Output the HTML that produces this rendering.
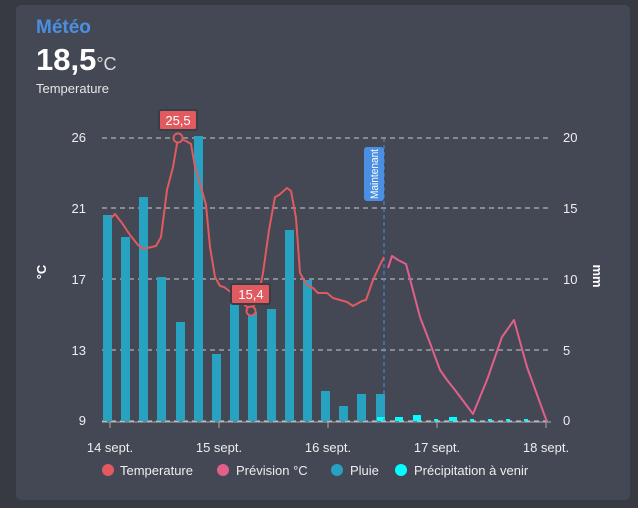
<!DOCTYPE html><html><head><style>
body{margin:0;width:638px;height:508px;background:#373a42;font-family:"Liberation Sans",sans-serif;overflow:hidden}
.card{position:absolute;left:16px;top:5px;width:614px;height:495px;background:#434854;border-radius:5px}
</style></head><body><div class="card"></div>
<svg width="638" height="508" style="position:absolute;left:0;top:0" font-family="Liberation Sans, sans-serif">
<text x="36" y="33" fill="#4b8fe2" font-size="19" font-weight="bold">Météo</text>
<text x="36" y="70" fill="#fff" font-size="31" font-weight="bold">18,5<tspan font-size="18" font-weight="normal" fill="#ddd">°C</tspan></text>
<text x="36" y="93" fill="#e6e6e6" font-size="13">Temperature</text>
<g stroke="#ccc" stroke-dasharray="5,4" stroke-width="1">
<line x1="102" y1="138" x2="551" y2="138"/><line x1="102" y1="208" x2="551" y2="208"/><line x1="102" y1="279" x2="551" y2="279"/><line x1="102" y1="350" x2="551" y2="350"/><line x1="102" y1="421" x2="551" y2="421"/></g>
<g fill="#eee" font-size="13" text-anchor="end"><text x="86" y="142">26</text><text x="86" y="213">21</text><text x="86" y="284">17</text><text x="86" y="355">13</text><text x="86" y="425">9</text></g>
<g fill="#eee" font-size="13"><text x="563" y="142">20</text><text x="563" y="213">15</text><text x="563" y="284">10</text><text x="563" y="355">5</text><text x="563" y="425">0</text></g>
<text transform="translate(46,272) rotate(-90)" fill="#fff" font-size="13" font-weight="bold" text-anchor="middle">°C</text>
<text transform="translate(593,276) rotate(90)" fill="#fff" font-size="13" font-weight="bold" text-anchor="middle">mm</text>
<g fill="#27a2c0">
<rect x="103" y="215" width="9" height="206"/><rect x="121" y="237" width="9" height="184"/><rect x="139" y="197" width="9" height="224"/><rect x="157" y="277" width="9" height="144"/><rect x="176" y="322" width="9" height="99"/><rect x="194" y="136" width="9" height="285"/><rect x="212" y="354" width="9" height="67"/><rect x="230" y="303" width="9" height="118"/><rect x="248" y="312" width="9" height="109"/><rect x="267" y="309" width="9" height="112"/><rect x="285" y="230" width="9" height="191"/><rect x="303" y="280" width="9" height="141"/><rect x="321" y="391" width="9" height="30"/><rect x="339" y="406" width="9" height="15"/><rect x="357" y="394" width="9" height="27"/><rect x="376" y="394" width="9" height="27"/></g>
<g fill="#00ffff"><rect x="377" y="417" width="8" height="4"/><rect x="395" y="417" width="8" height="4"/><rect x="413" y="415" width="8" height="6"/><rect x="434" y="419" width="4" height="2"/><rect x="449" y="417" width="8" height="4"/><rect x="470" y="419" width="4" height="2"/><rect x="488" y="419" width="4" height="2"/><rect x="506" y="419" width="4" height="2"/><rect x="524" y="419" width="4" height="2"/></g>
<line x1="102" y1="422" x2="551" y2="422" stroke="#aaa"/>
<g stroke="#aaa"><line x1="110" y1="422" x2="110" y2="428"/><line x1="219" y1="422" x2="219" y2="428"/><line x1="328" y1="422" x2="328" y2="428"/><line x1="437" y1="422" x2="437" y2="428"/><line x1="546" y1="422" x2="546" y2="428"/></g>
<g fill="#eee" font-size="13" text-anchor="middle"><text x="110" y="452">14 sept.</text><text x="219" y="452">15 sept.</text><text x="328" y="452">16 sept.</text><text x="437" y="452">17 sept.</text><text x="546" y="452">18 sept.</text></g>
<line x1="384" y1="138" x2="384" y2="421" stroke="#4b8fe2" stroke-dasharray="4,3"/>
<rect x="364" y="147" width="20" height="54" rx="3" fill="#4b8fe2"/>
<text transform="translate(378,174) rotate(-90)" fill="#fff" font-size="11" text-anchor="middle" textLength="50" lengthAdjust="spacingAndGlyphs">Maintenant</text>
<polyline fill="none" stroke="#e05a5f" stroke-width="2" stroke-linejoin="round" points="111,218 115,214 122,223 130,235 138,245 143,249 156,246 161,237 167,190 173,167 178,138 186,141 191,144 195,167 201,187 206,205 210,247 215,277 220,286 224,287 232,293 247,307 251,311 258,298 263,273 269,230 275,197 279,195 287,188 291,191 296,218 300,273 307,285 313,288 318,293 327,293 333,298 347,302 353,306 362,301 366,300 373,280 379,267 384,257"/>
<polyline fill="none" stroke="#e0608a" stroke-width="2" stroke-linejoin="round" points="388,268 392,256 398,260 406,264 420,317 430,343 440,370 447,380 455,390 473,414 487,380 502,337 514,320 527,367 547,422"/>
<circle cx="178" cy="138" r="4.5" fill="#434854" stroke="#e05a5f" stroke-width="2"/>
<circle cx="251" cy="311" r="4.5" fill="#434854" stroke="#e05a5f" stroke-width="2"/>
<rect x="159" y="110" width="38" height="20" rx="2" fill="#e05a5f" stroke="#3a3d45" stroke-width="2"/>
<text x="178" y="125" fill="#fff" font-size="13" text-anchor="middle">25,5</text>
<rect x="231" y="284" width="39" height="20" rx="2" fill="#e05a5f" stroke="#3a3d45" stroke-width="2"/>
<text x="251" y="299" fill="#fff" font-size="13" text-anchor="middle">15,4</text>
<g font-size="13" fill="#eee">
<circle cx="108" cy="470" r="6" fill="#e05a5f"/><text x="120" y="475">Temperature</text>
<circle cx="223" cy="470" r="6" fill="#e0608a"/><text x="236" y="475">Prévision °C</text>
<circle cx="337" cy="470" r="6" fill="#27a2c0"/><text x="350" y="475">Pluie</text>
<circle cx="401" cy="470" r="6" fill="#00ffff"/><text x="414" y="475">Précipitation à venir</text></g>
</svg></body></html>
